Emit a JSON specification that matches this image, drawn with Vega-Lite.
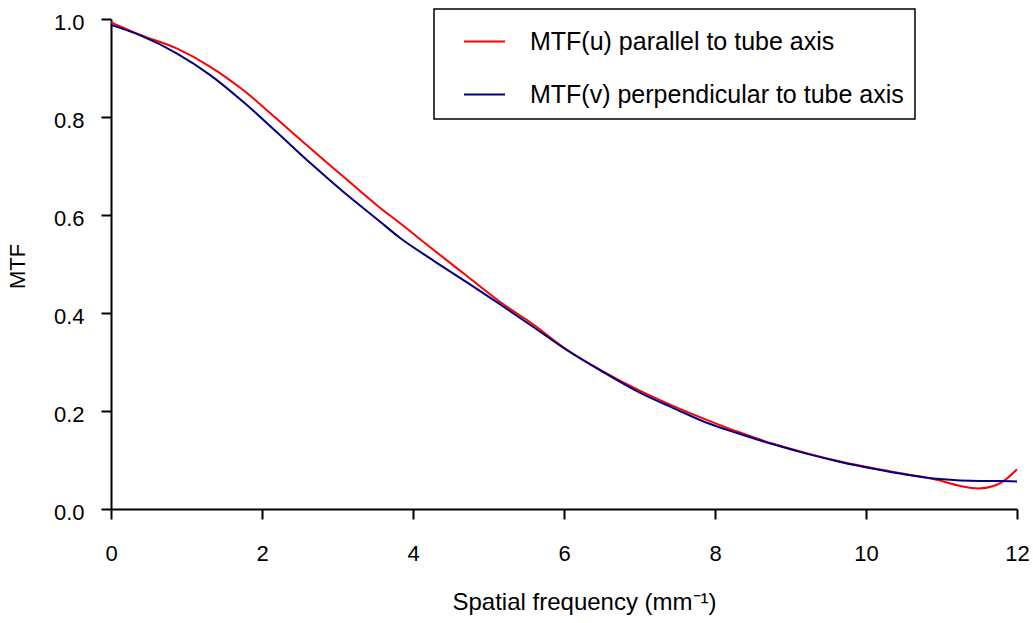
{
  "$schema": "https://vega.github.io/schema/vega-lite/v6.json",
  "width": 906,
  "height": 490,
  "autosize": {"type": "none"},
  "padding": {"left": 111, "top": 19, "right": 16, "bottom": 114},
  "background": "white",
  "config": {
    "view": {"stroke": null},
    "font": "Liberation Sans",
    "axis": {
      "grid": false,
      "domainColor": "black",
      "domainWidth": 2,
      "tickColor": "black",
      "tickWidth": 2,
      "tickSize": 10,
      "labelFont": "Liberation Sans",
      "labelFontSize": 22,
      "labelColor": "black",
      "labelFlush": false,
      "labelOverlap": false,
      "titleFont": "Liberation Sans",
      "titleFontWeight": "normal",
      "titleColor": "black"
    },
    "legend": {
      "orient": "none",
      "legendX": 323,
      "legendY": -10,
      "strokeColor": "black",
      "strokeWidth": 1.5,
      "fillColor": "white",
      "padding": 11,
      "symbolType": "stroke",
      "symbolSize": 1681,
      "symbolStrokeWidth": 2,
      "symbolOffset": 18,
      "labelOffset": 24,
      "labelFont": "Liberation Sans",
      "labelFontSize": 25,
      "labelColor": "black",
      "labelLimit": 700,
      "rowPadding": 18
    }
  },
  "data": {
    "values": [
      {"series": "MTF(u) parallel to tube axis", "f": 0, "mtf": 0.993},
      {"series": "MTF(u) parallel to tube axis", "f": 0.38, "mtf": 0.968},
      {"series": "MTF(u) parallel to tube axis", "f": 0.87, "mtf": 0.940},
      {"series": "MTF(u) parallel to tube axis", "f": 1.31, "mtf": 0.903},
      {"series": "MTF(u) parallel to tube axis", "f": 1.75, "mtf": 0.855},
      {"series": "MTF(u) parallel to tube axis", "f": 2.19, "mtf": 0.797},
      {"series": "MTF(u) parallel to tube axis", "f": 2.64, "mtf": 0.736},
      {"series": "MTF(u) parallel to tube axis", "f": 3.08, "mtf": 0.678},
      {"series": "MTF(u) parallel to tube axis", "f": 3.52, "mtf": 0.620},
      {"series": "MTF(u) parallel to tube axis", "f": 3.83, "mtf": 0.583},
      {"series": "MTF(u) parallel to tube axis", "f": 4.27, "mtf": 0.529},
      {"series": "MTF(u) parallel to tube axis", "f": 4.71, "mtf": 0.476},
      {"series": "MTF(u) parallel to tube axis", "f": 5.15, "mtf": 0.423},
      {"series": "MTF(u) parallel to tube axis", "f": 5.59, "mtf": 0.377},
      {"series": "MTF(u) parallel to tube axis", "f": 6.04, "mtf": 0.325},
      {"series": "MTF(u) parallel to tube axis", "f": 6.48, "mtf": 0.284},
      {"series": "MTF(u) parallel to tube axis", "f": 7.01, "mtf": 0.241},
      {"series": "MTF(u) parallel to tube axis", "f": 7.45, "mtf": 0.210},
      {"series": "MTF(u) parallel to tube axis", "f": 7.89, "mtf": 0.182},
      {"series": "MTF(u) parallel to tube axis", "f": 8.33, "mtf": 0.156},
      {"series": "MTF(u) parallel to tube axis", "f": 8.77, "mtf": 0.133},
      {"series": "MTF(u) parallel to tube axis", "f": 9.21, "mtf": 0.114},
      {"series": "MTF(u) parallel to tube axis", "f": 9.66, "mtf": 0.097},
      {"series": "MTF(u) parallel to tube axis", "f": 10.10, "mtf": 0.083},
      {"series": "MTF(u) parallel to tube axis", "f": 10.54, "mtf": 0.071},
      {"series": "MTF(u) parallel to tube axis", "f": 10.98, "mtf": 0.058},
      {"series": "MTF(u) parallel to tube axis", "f": 11.25, "mtf": 0.047},
      {"series": "MTF(u) parallel to tube axis", "f": 11.49, "mtf": 0.042},
      {"series": "MTF(u) parallel to tube axis", "f": 11.69, "mtf": 0.047},
      {"series": "MTF(u) parallel to tube axis", "f": 11.84, "mtf": 0.059},
      {"series": "MTF(u) parallel to tube axis", "f": 12.0, "mtf": 0.081},
      {"series": "MTF(v) perpendicular to tube axis", "f": 0, "mtf": 0.988},
      {"series": "MTF(v) perpendicular to tube axis", "f": 0.38, "mtf": 0.967},
      {"series": "MTF(v) perpendicular to tube axis", "f": 0.87, "mtf": 0.930},
      {"series": "MTF(v) perpendicular to tube axis", "f": 1.31, "mtf": 0.886},
      {"series": "MTF(v) perpendicular to tube axis", "f": 1.75, "mtf": 0.831},
      {"series": "MTF(v) perpendicular to tube axis", "f": 2.19, "mtf": 0.770},
      {"series": "MTF(v) perpendicular to tube axis", "f": 2.64, "mtf": 0.706},
      {"series": "MTF(v) perpendicular to tube axis", "f": 3.08, "mtf": 0.647},
      {"series": "MTF(v) perpendicular to tube axis", "f": 3.52, "mtf": 0.592},
      {"series": "MTF(v) perpendicular to tube axis", "f": 3.83, "mtf": 0.553},
      {"series": "MTF(v) perpendicular to tube axis", "f": 4.27, "mtf": 0.507},
      {"series": "MTF(v) perpendicular to tube axis", "f": 4.71, "mtf": 0.463},
      {"series": "MTF(v) perpendicular to tube axis", "f": 5.15, "mtf": 0.418},
      {"series": "MTF(v) perpendicular to tube axis", "f": 5.59, "mtf": 0.372},
      {"series": "MTF(v) perpendicular to tube axis", "f": 6.04, "mtf": 0.324},
      {"series": "MTF(v) perpendicular to tube axis", "f": 6.48, "mtf": 0.283},
      {"series": "MTF(v) perpendicular to tube axis", "f": 7.01, "mtf": 0.237},
      {"series": "MTF(v) perpendicular to tube axis", "f": 7.45, "mtf": 0.206},
      {"series": "MTF(v) perpendicular to tube axis", "f": 7.89, "mtf": 0.176},
      {"series": "MTF(v) perpendicular to tube axis", "f": 8.33, "mtf": 0.153},
      {"series": "MTF(v) perpendicular to tube axis", "f": 8.77, "mtf": 0.132},
      {"series": "MTF(v) perpendicular to tube axis", "f": 9.21, "mtf": 0.113},
      {"series": "MTF(v) perpendicular to tube axis", "f": 9.66, "mtf": 0.096},
      {"series": "MTF(v) perpendicular to tube axis", "f": 10.10, "mtf": 0.082},
      {"series": "MTF(v) perpendicular to tube axis", "f": 10.54, "mtf": 0.070},
      {"series": "MTF(v) perpendicular to tube axis", "f": 10.98, "mtf": 0.061},
      {"series": "MTF(v) perpendicular to tube axis", "f": 11.25, "mtf": 0.058},
      {"series": "MTF(v) perpendicular to tube axis", "f": 11.5, "mtf": 0.057},
      {"series": "MTF(v) perpendicular to tube axis", "f": 11.75, "mtf": 0.057},
      {"series": "MTF(v) perpendicular to tube axis", "f": 12.0, "mtf": 0.056}
    ]
  },
  "mark": {"type": "line", "interpolate": "monotone", "strokeWidth": 2, "clip": false},
  "encoding": {
    "x": {
      "field": "f",
      "type": "quantitative",
      "scale": {"domain": [0, 12], "nice": false, "zero": false},
      "axis": {
        "values": [0, 2, 4, 6, 8, 10, 12],
        "format": "d",
        "labelPadding": 24,
        "title": "Spatial frequency (mm⁻¹)",
        "titleFontSize": 24,
        "titleX": 473,
        "titleY": 93,
        "titleAlign": "center",
        "titleBaseline": "middle"
      }
    },
    "y": {
      "field": "mtf",
      "type": "quantitative",
      "scale": {"domain": [0, 1], "nice": false},
      "axis": {
        "values": [0, 0.2, 0.4, 0.6, 0.8, 1.0],
        "format": ".1f",
        "labelPadding": 17,
        "labelOffset": 3,
        "title": "MTF",
        "titleFontSize": 22,
        "titleX": -94,
        "titleY": 247,
        "titleAngle": 270,
        "titleAlign": "center",
        "titleBaseline": "middle"
      }
    },
    "color": {
      "field": "series",
      "type": "nominal",
      "scale": {
        "domain": ["MTF(u) parallel to tube axis", "MTF(v) perpendicular to tube axis"],
        "range": ["#ff0000", "#000080"]
      },
      "legend": {"title": null}
    }
  }
}
